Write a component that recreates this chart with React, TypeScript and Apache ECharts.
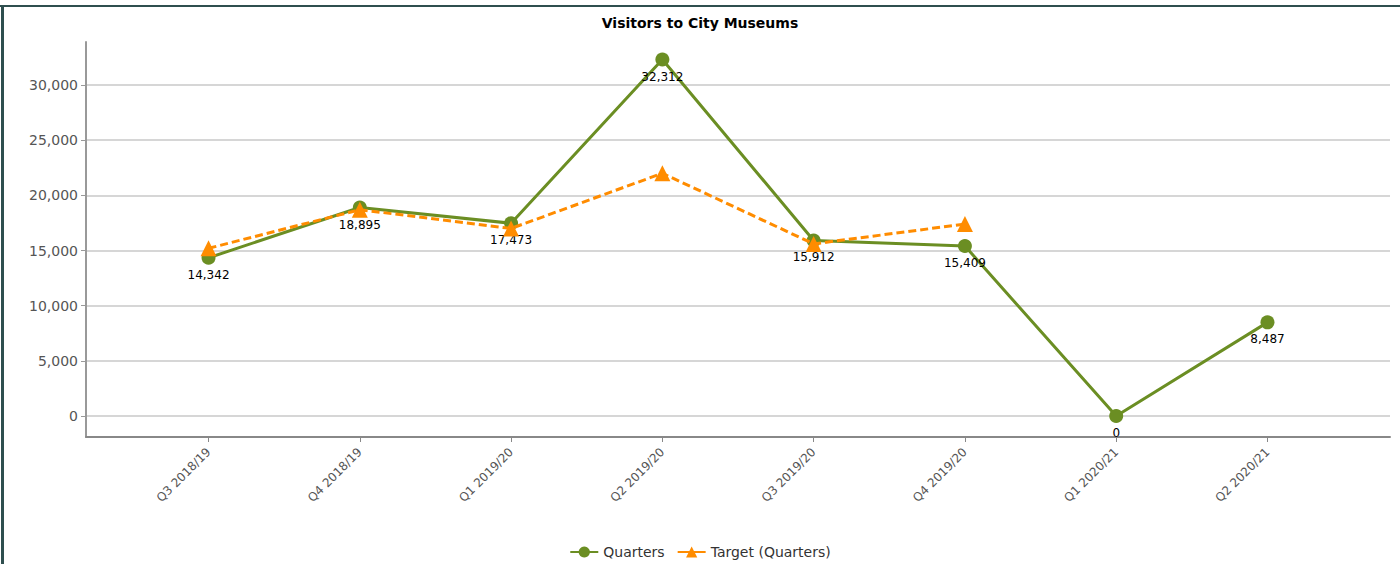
import React, { useEffect, useRef } from "react";
import * as echarts from "echarts";

const categories = [
  "Q3 2018/19",
  "Q4 2018/19",
  "Q1 2019/20",
  "Q2 2019/20",
  "Q3 2019/20",
  "Q4 2019/20",
  "Q1 2020/21",
  "Q2 2020/21",
];
const quarters = [14342, 18895, 17473, 32312, 15912, 15409, 0, 8487];
const target: (number | null)[] = [15200, 18700, 17000, 22000, 15600, 17400, null, null];
const yTicks = [0, 5000, 10000, 15000, 20000, 25000, 30000];

const fmt = (v: number) => Math.round(v).toLocaleString("en-US");
const FONT = "DejaVu Sans";

export default function App() {
  const ref = useRef<HTMLDivElement>(null);
  useEffect(() => {
    document.body.style.margin = "0";
    const chart = echarts.init(ref.current!, null, { renderer: "svg" });
    const xIdx = categories.map((_, i) => i);
    chart.setOption({
      animation: false,
      backgroundColor: "#ffffff",
      title: {
        text: "Visitors to City Museums",
        left: "center",
        top: 11,
        textStyle: { fontFamily: FONT, fontSize: 14, fontWeight: "bold", color: "#000" },
      },
      graphic: [
        { type: "rect", shape: { x: 0, y: 5, width: 1400, height: 2 }, style: { fill: "#2f4f4f" }, silent: true },
        { type: "rect", shape: { x: 1, y: 5, width: 3, height: 559 }, style: { fill: "#2f4f4f" }, silent: true },
      ],
      legend: {
        bottom: 0,
        left: "center",
        itemWidth: 28,
        itemHeight: 14,
        itemGap: 12,
        textStyle: { fontFamily: FONT, fontSize: 14, color: "#333" },
        data: [
          { name: "Quarters" },
          { name: "Target (Quarters)", lineStyle: { type: "solid" } },
        ],
      },
      grid: { left: 86, right: 10, top: 42, bottom: 127, containLabel: false },
      xAxis: {
        type: "value",
        min: -0.81,
        max: 7.81,
        axisLine: { show: true, onZero: false, lineStyle: { color: "#888", width: 2 } },
        axisTick: { show: true, customValues: xIdx, length: 5, lineStyle: { color: "#888" } },
        splitLine: { show: false },
        axisLabel: {
          customValues: xIdx,
          rotate: 45,
          formatter: (v: number) => categories[Math.round(v)] ?? "",
          fontFamily: FONT,
          fontSize: 12,
          color: "#555",
          margin: 13,
        },
      },
      yAxis: {
        type: "value",
        min: -1903,
        max: 33900,
        axisLine: { show: true, onZero: false, lineStyle: { color: "#999", width: 2 } },
        axisTick: { show: true, customValues: yTicks, length: 5, lineStyle: { color: "#999" } },
        splitLine: { show: true, lineStyle: { color: "#c8c8c8", width: 1.5 } },
        axisLabel: {
          customValues: yTicks,
          formatter: (v: number) => fmt(v),
          fontFamily: FONT,
          fontSize: 14,
          color: "#555",
          margin: 8,
        },
      },
      series: [
        {
          name: "Quarters",
          type: "line",
          data: quarters.map((v, i) => [i, v]),
          symbol: "circle",
          symbolSize: 14,
          itemStyle: { color: "#6b8e23" },
          lineStyle: { color: "#6b8e23", width: 3 },
          z: 2,
          label: {
            show: true,
            position: "bottom",
            distance: 4,
            formatter: (p: any) => fmt(p.value[1]),
            fontFamily: FONT,
            fontSize: 12,
            color: "#000",
          },
        },
        {
          name: "Target (Quarters)",
          type: "line",
          data: target.map((v, i) => [i, v]),
          symbol: "triangle",
          symbolSize: 16,
          itemStyle: { color: "#ff8c00" },
          lineStyle: { color: "#ff8c00", width: 3, type: [8, 4] },
          z: 3,
          label: { show: false },
        },
      ],
    });
    return () => chart.dispose();
  }, []);
  return <div ref={ref} style={{ position: "absolute", left: 0, top: 0, width: 1400, height: 564 }} />;
}
